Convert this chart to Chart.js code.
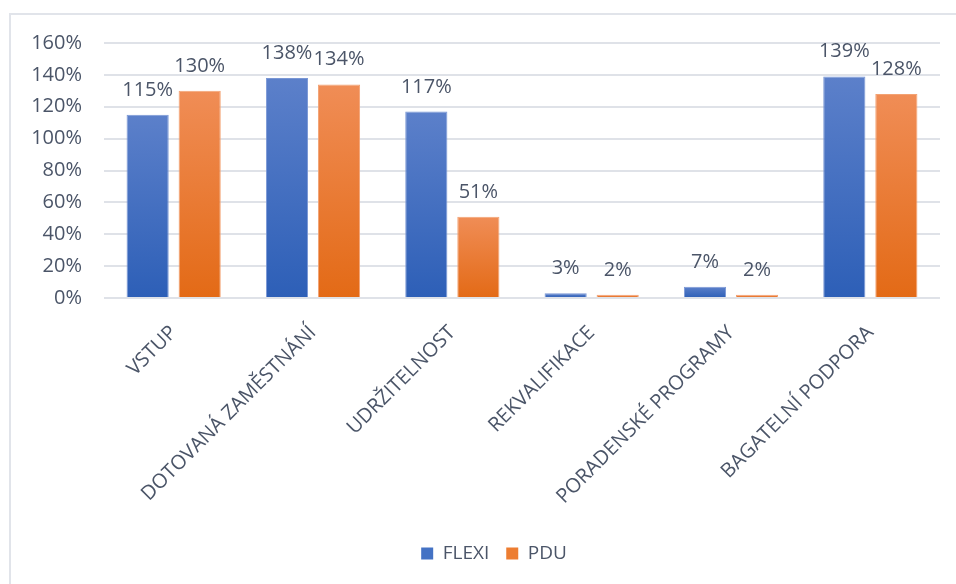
<!DOCTYPE html>
<html>
<head>
<meta charset="utf-8">
<script src="https://cdn.jsdelivr.net/npm/chart.js@4"></script>
<style>
  body { margin: 0; background: #fff; }
  #frame { position: absolute; left: 9px; top: 13px; width: 1000px; height: 700px;
           border-left: 2px solid #e1e4ea; border-top: 2px solid #e1e4ea; }
  #chart { position: absolute; left: 0; top: 0; }
</style>
</head>
<body>
<div id="frame"></div>
<canvas id="chart" width="956" height="584"></canvas>
<script>
// categories and values (in %)
const categories = ['VSTUP', 'DOTOVANÁ ZAMĚSTNÁNÍ', 'UDRŽITELNOST', 'REKVALIFIKACE', 'PORADENSKÉ PROGRAMY', 'BAGATELNÍ PODPORA'];
const flexi = [115, 138, 117, 3, 7, 139];
const pdu = [130, 134, 51, 2, 2, 128];
const yTicks = [0, 20, 40, 60, 80, 100, 120, 140, 160];

const textColor = '#4b5568';
const font = "'Open Sans', sans-serif";

// vertical gradient per bar, lighter at top
function barGradient(top, bottom) {
    return function (c) {
        const chart = c.chart;
        const y = chart.scales.y;
        if (!y || c.raw == null) return bottom;
        const yTop = y.getPixelForValue(c.raw);
        const yBase = y.getPixelForValue(0);
        if (!isFinite(yTop) || !isFinite(yBase) || yTop === yBase) return bottom;
        const g = chart.ctx.createLinearGradient(0, yTop, 0, yBase);
        g.addColorStop(0, top);
        g.addColorStop(1, bottom);
        return g;
    };
}

// value labels above bars
const valueLabels = {
    id: 'valueLabels',
    afterDatasetsDraw(chart) {
        const ctx = chart.ctx;
        ctx.save();
        ctx.font = '20px ' + font;
        ctx.fillStyle = textColor;
        ctx.textAlign = 'center';
        ctx.textBaseline = 'alphabetic';
        chart.data.datasets.forEach((ds, i) => {
            chart.getDatasetMeta(i).data.forEach((bar, j) => {
                ctx.fillText(ds.data[j] + '%', bar.x, bar.y - 19);
            });
        });
        ctx.restore();
    }
};

// legend sits a little right of the canvas centre
const legendShift = {
    id: 'legendShift',
    afterLayout(chart) {
        chart.legend.left += 19;
        chart.legend.right += 19;
    }
};

new Chart(document.getElementById('chart'), {
    type: 'bar',
    data: {
        labels: categories,
        datasets: [{
            label: 'FLEXI',
            data: flexi,
            backgroundColor: barGradient('#5c80ca', '#2d5fb7'),
            borderColor: '#7a97d5',
            borderWidth: 1,
            categoryPercentage: 0.747,
            barPercentage: 0.81
        }, {
            label: 'PDU',
            data: pdu,
            backgroundColor: barGradient('#f08d56', '#e36a16'),
            borderColor: '#f3a273',
            borderWidth: 1,
            categoryPercentage: 0.747,
            barPercentage: 0.81
        }]
    },
    options: {
        responsive: false,
        animation: false,
        layout: { padding: { top: 43, left: 10, right: 16, bottom: 11 } },
        scales: {
            x: {
                grid: { display: false, drawTicks: false },
                border: { display: false },
                ticks: {
                    color: textColor,
                    font: { family: font, size: 20 },
                    minRotation: 45,
                    maxRotation: 45,
                    padding: 23
                },
                afterFit(s) { s.height = 229; }
            },
            y: {
                min: 0,
                max: 160,
                afterBuildTicks(s) { s.ticks = yTicks.map(v => ({ value: v })); },
                grid: { color: '#dfe2e8', lineWidth: 2, drawTicks: false },
                border: { display: false },
                ticks: {
                    color: textColor,
                    font: { family: font, size: 20 },
                    padding: 22,
                    callback: v => v + '%'
                },
                afterFit(s) { s.width = 94; }
            }
        },
        plugins: {
            legend: {
                position: 'bottom',
                labels: {
                    color: textColor,
                    font: { family: font, size: 19 },
                    boxWidth: 12,
                    boxHeight: 12,
                    padding: 17,
                    generateLabels(chart) {
                        const cols = ['#4472c4', '#ed7d31'];
                        return chart.data.datasets.map((ds, i) => ({
                            text: ds.label,
                            fillStyle: cols[i],
                            strokeStyle: cols[i],
                            lineWidth: 0,
                            fontColor: textColor,
                            datasetIndex: i
                        }));
                    }
                }
            },
            tooltip: { enabled: false }
        }
    },
    plugins: [valueLabels, legendShift]
});
</script>
</body>
</html>
